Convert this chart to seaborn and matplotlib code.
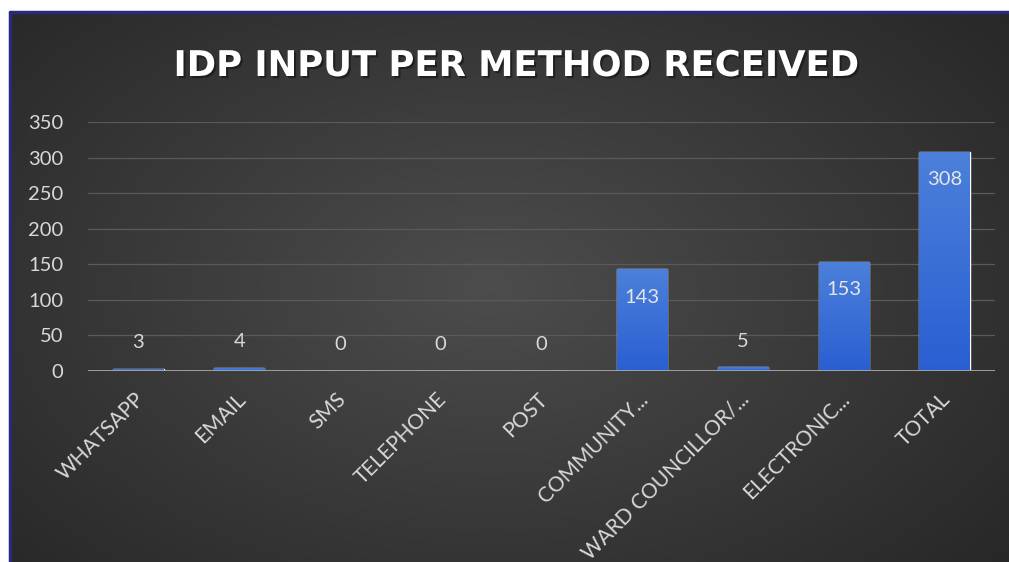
import numpy as np
import pandas as pd
import seaborn as sns
import matplotlib.pyplot as plt
import matplotlib.patheffects as pe
from matplotlib.colors import LinearSegmentedColormap
from matplotlib.transforms import ScaledTranslation

categories = ["WHATSAPP", "EMAIL", "SMS", "TELEPHONE", "POST", "COMMUNITY...",
              "WARD COUNCILLOR/...", "ELECTRONIC...", "TOTAL"]
values = [3, 4, 0, 0, 0, 143, 5, 153, 308]
yticks = [0, 50, 100, 150, 200, 250, 300, 350]
title = "IDP INPUT PER METHOD RECEIVED"

sns.set_theme(style="dark")
plt.rcParams['font.family'] = ['Lato', 'DejaVu Sans']

W, H = 1009, 562
fig = plt.figure(figsize=(W / 100, H / 100), dpi=100)
fig.patch.set_facecolor("white")

# dark panel with radial gradient
bg = fig.add_axes([10 / W, 0, (W - 10) / W, (H - 12) / H])
bg.set_axis_off()
yy, xx = np.mgrid[0:1:300j, 0:1:600j]
r = np.sqrt(((xx - 0.48) / 0.75) ** 2 + ((yy - 0.5) / 0.85) ** 2)
g = np.clip(0.30 - 0.16 * r, 0.15, 0.32)
bg.imshow(np.dstack([g, g, g]), aspect="auto", extent=[0, 1, 0, 1], origin="lower")
bg.set_xlim(0, 1); bg.set_ylim(0, 1)
# navy border
fig.add_artist(plt.Line2D([10 / W, 10 / W], [0, (H - 12) / H], color="#2b2a7a", lw=2.5, transform=fig.transFigure))
fig.add_artist(plt.Line2D([10 / W, 1], [(H - 12) / H, (H - 12) / H], color="#2b2a7a", lw=2.5, transform=fig.transFigure))

ax = fig.add_axes([88 / W, 191 / H, (995 - 88) / W, (371 - 122) / H])
ax.set_facecolor("none")
df = pd.DataFrame({"cat": categories, "val": values})
sns.barplot(data=df, x="cat", y="val", ax=ax, color="#3a6fd8", width=0.5, saturation=1, zorder=3)
ax.set_ylim(0, 350)
ax.set_xlim(-0.5, len(categories) - 0.5)
ax.set_yticks(yticks)
for y in yticks[1:]:
    ax.axhline(y, color="#5a5a5a", lw=0.9, zorder=1)
ax.axhline(0, color="#a8a8a8", lw=2, zorder=4)
for s in ax.spines.values():
    s.set_visible(False)
ax.grid(False)
ax.set_xlabel(""); ax.set_ylabel("")
ax.tick_params(axis="y", colors="#d9d9d9", labelsize=14.5, length=0, pad=18)
ax.tick_params(axis="x", colors="#d9d9d9", labelsize=15, length=0, pad=13)
plt.setp(ax.get_xticklabels(), rotation=45, ha="right", rotation_mode="anchor")
for lab in ax.get_xticklabels():
    lab.set_transform(lab.get_transform() + ScaledTranslation(-4 / 100, 0, fig.dpi_scale_trans))

# gradient fill on bars
cmap = LinearSegmentedColormap.from_list("b", ["#2a5fd3", "#4c80da"])
grad = np.linspace(0, 1, 256).reshape(-1, 1)
for p in ax.patches:
    x0, w, h = p.get_x(), p.get_width(), p.get_height()
    if h <= 0:
        continue
    im = ax.imshow(grad, cmap=cmap, aspect="auto", origin="lower",
                   extent=[x0, x0 + w, 0, h], zorder=3)
    im.set_clip_path(p)
ax.set_xlim(-0.5, len(categories) - 0.5)
ax.set_ylim(0, 350)

for i, v in enumerate(values):
    if v > 50:
        ax.annotate(str(v), (i, v), xytext=(0, -20), textcoords="offset points",
                    ha="center", va="center", color="#e6e6e6", fontsize=14.5, zorder=5)
    else:
        ax.annotate(str(v), (i, v), xytext=(0, 19), textcoords="offset points",
                    ha="center", va="center", color="#d9d9d9", fontsize=14.5, zorder=5)

fig.text(516 / W, 1 - 66 / H, title, ha="center", va="center", color="white",
         fontsize=25.5, fontweight="bold", family=["DejaVu Sans"],
         path_effects=[pe.withSimplePatchShadow(offset=(1.5, -1.5), shadow_rgbFace="#111111", alpha=0.6)])

fig.savefig("out.png", dpi=100)
